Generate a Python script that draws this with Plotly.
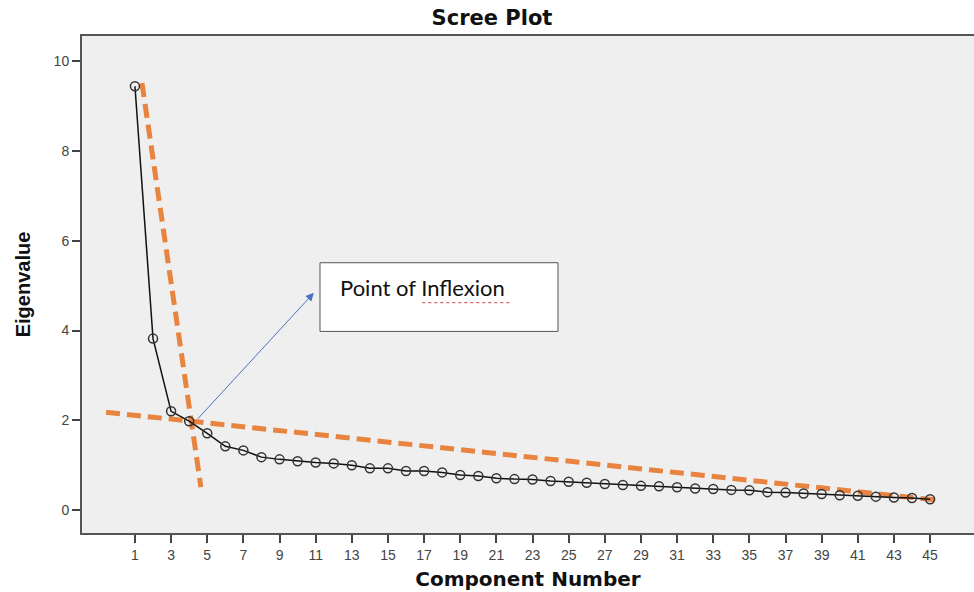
import plotly.graph_objects as go

components = list(range(1, 46))
eigenvalues = [9.44, 3.82, 2.20, 1.98, 1.71, 1.42, 1.33, 1.18, 1.13, 1.09,
               1.06, 1.04, 1.00, 0.93, 0.93, 0.87, 0.87, 0.84, 0.78, 0.76,
               0.71, 0.69, 0.68, 0.65, 0.63, 0.61, 0.58, 0.56, 0.54, 0.53,
               0.51, 0.48, 0.47, 0.45, 0.44, 0.40, 0.39, 0.37, 0.36, 0.33,
               0.32, 0.30, 0.28, 0.27, 0.24]

steep_x = [1.39, 4.65]
steep_y = [9.51, 0.51]
flat_x = [-0.6, 45.44]
flat_y = [2.18, 0.22]

arrow_tail = (4.4, 2.0)
arrow_head = (10.9, 4.84)
box_x = [11.24, 24.41]
box_y = [3.98, 5.51]
label_text = "Point of Inflexion"

x_ticks = list(range(1, 46, 2))
y_ticks = [0, 2, 4, 6, 8, 10]

orange = "#E8843F"

fig = go.Figure()
fig.add_trace(go.Scatter(x=steep_x, y=steep_y, mode="lines",
                         line=dict(color=orange, width=5, dash="14px,7px"),
                         hoverinfo="skip", showlegend=False))
fig.add_trace(go.Scatter(x=flat_x, y=flat_y, mode="lines",
                         line=dict(color=orange, width=5, dash="14px,7px"),
                         hoverinfo="skip", showlegend=False))
fig.add_trace(go.Scatter(x=components, y=eigenvalues, mode="lines+markers",
                         line=dict(color="#111111", width=1.5),
                         marker=dict(symbol="circle-open", size=9,
                                     color="#333333", line=dict(width=1.5)),
                         showlegend=False))

fig.add_shape(type="rect", xref="x", yref="y",
              x0=box_x[0], x1=box_x[1], y0=box_y[0], y1=box_y[1],
              fillcolor="white", line=dict(color="#555555", width=1))
fig.add_annotation(x=box_x[0] + 0.99, y=(box_y[0] + box_y[1]) / 2 + 0.22,
                   xref="x", yref="y", text=label_text, showarrow=False,
                   xanchor="left", yanchor="middle",
                   font=dict(family="Lato, Carlito, sans-serif", size=22, color="#111111"))
fig.add_shape(type="line", xref="x", yref="y",
              x0=box_x[0] + 5.66, x1=box_x[0] + 10.56,
              y0=box_y[0] + 0.64, y1=box_y[0] + 0.64,
              line=dict(color="#D04040", width=1, dash="dot"))
fig.add_annotation(x=arrow_head[0], y=arrow_head[1], ax=arrow_tail[0], ay=arrow_tail[1],
                   xref="x", yref="y", axref="x", ayref="y", text="",
                   showarrow=True, arrowhead=2, arrowsize=1.6, arrowwidth=1,
                   arrowcolor="#4A72C0")

bold_wide = "DejaVu Sans, Verdana, sans-serif"
fig.update_layout(
    width=974, height=592,
    margin=dict(l=82, r=0, t=36, b=59),
    paper_bgcolor="white", plot_bgcolor="#EFEFEF",
    font=dict(family="Liberation Sans, Arial, sans-serif", color="#444444"),
    title=dict(text="<b>Scree Plot</b>", x=492 / 974, xanchor="center",
               y=1 - 18 / 592, yanchor="middle",
               font=dict(family=bold_wide, size=21, color="#111111")),
)
fig.update_xaxes(range=[-1.93, 47.43], tickvals=x_ticks, ticks="outside",
                 ticklen=8, tickwidth=1.5, tickcolor="#444444",
                 showgrid=False, zeroline=False, showline=True, linecolor="#555555",
                 linewidth=2, mirror=True, tickfont=dict(size=14),
                 title=dict(text="<b>Component Number</b>", standoff=10,
                            font=dict(family=bold_wide, size=20, color="#111111")))
fig.update_yaxes(range=[-0.51, 10.56], tickvals=y_ticks, ticks="outside",
                 ticklen=8, tickwidth=1.5, tickcolor="#444444",
                 showgrid=False, zeroline=False, showline=True, linecolor="#555555",
                 linewidth=2, tickfont=dict(size=14),
                 title=dict(text="<b>Eigenvalue</b>", standoff=18,
                            font=dict(family="Liberation Sans Narrow, Liberation Sans, Arial, sans-serif",
                                      size=20, color="#111111")))

fig.write_html("out.html", config={"displayModeBar": False})

with open("out.html", "r", encoding="utf-8") as f:
    html = f.read()
html = html.replace("<body>", '<body style="margin:0;padding:0;">', 1)
with open("out.html", "w", encoding="utf-8") as f:
    f.write(html)
